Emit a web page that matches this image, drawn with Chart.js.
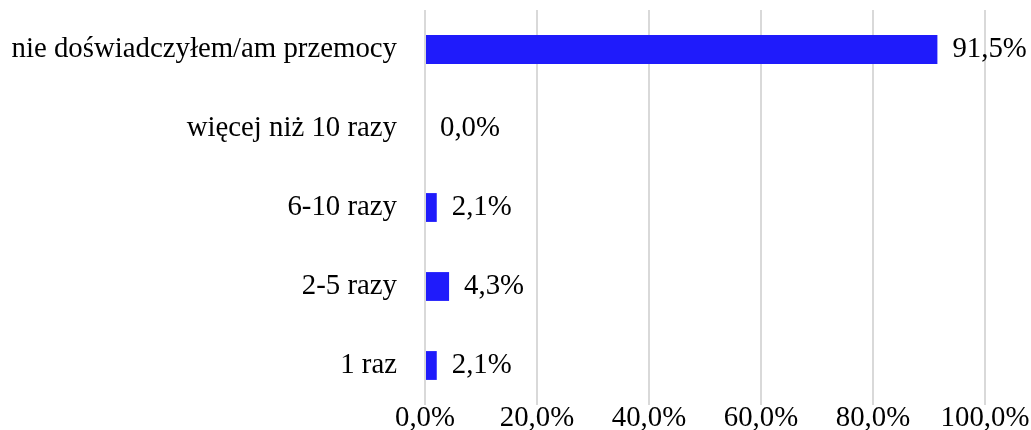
<!DOCTYPE html>
<html>
<head>
<meta charset="utf-8">
<script src="https://cdn.jsdelivr.net/npm/chart.js@4"></script>
<style>
  html, body { margin: 0; padding: 0; background: #fff; }
  #wrap { width: 1031px; height: 430px; }
</style>
</head>
<body>
<div id="wrap"><canvas id="chart"></canvas></div>
<script>
const categories = ['nie doświadczyłem/am przemocy', 'więcej niż 10 razy', '6-10 razy', '2-5 razy', '1 raz'];
const values = [91.5, 0.0, 2.1, 4.3, 2.1];
const xTicks = [0, 20, 40, 60, 80, 100];

const fmt = v => v.toFixed(1).replace('.', ',') + '%';
const serif = '"Liberation Serif", "Times New Roman", serif';
const fontSize = 28.8;

// value labels to the right of each bar
const valueLabels = {
    id: 'valueLabels',
    afterDatasetsDraw(chart) {
        const ctx = chart.ctx;
        const meta = chart.getDatasetMeta(0);
        ctx.save();
        ctx.font = fontSize + 'px ' + serif;
        ctx.fillStyle = '#000';
        ctx.textBaseline = 'middle';
        ctx.textAlign = 'left';
        meta.data.forEach((bar, i) => {
            ctx.fillText(fmt(values[i]), bar.x + 15, bar.y);
        });
        ctx.restore();
    }
};

new Chart(document.getElementById('chart').getContext('2d'), {
    type: 'bar',
    data: {
        labels: categories,
        datasets: [{
            data: values,
            backgroundColor: '#1f1bfb',
            barPercentage: 0.73,
            categoryPercentage: 0.5
        }]
    },
    options: {
        indexAxis: 'y',
        responsive: true,
        maintainAspectRatio: false,
        animation: false,
        layout: { padding: { top: 10, right: 46, left: 0, bottom: 0 } },
        plugins: { legend: { display: false }, tooltip: { enabled: false } },
        scales: {
            x: {
                min: 0,
                max: 100,
                afterBuildTicks: axis => { axis.ticks = xTicks.map(v => ({ value: v })); },
                afterFit: axis => { axis.height = 25; },
                grid: { color: '#d9d9d9', lineWidth: 2, drawTicks: false },
                border: { display: false },
                ticks: {
                    padding: 0,
                    color: '#000',
                    font: { family: serif, size: fontSize, lineHeight: 0.95 },
                    callback: v => fmt(v)
                }
            },
            y: {
                afterFit: axis => { axis.width = 425; },
                // tick marks hidden, their length only spaces the labels from the plot
                grid: { display: false, drawTicks: true, tickLength: 28 },
                border: { display: false },
                ticks: {
                    padding: 0,
                    color: '#000',
                    font: { family: serif, size: fontSize, lineHeight: 0.6 }
                }
            }
        }
    },
    plugins: [valueLabels]
});
</script>
</body>
</html>
